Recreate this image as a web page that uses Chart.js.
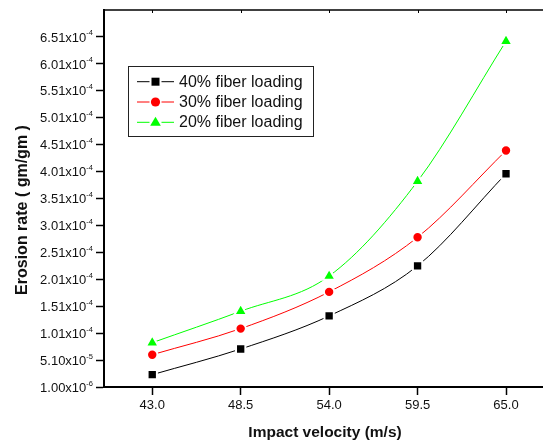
<!DOCTYPE html>
<html><head><meta charset="utf-8">
<script src="https://cdn.jsdelivr.net/npm/chart.js@4.4.1/dist/chart.umd.min.js"></script>
<style>html,body{margin:0;padding:0;background:#fff;overflow:hidden;}canvas{display:block;}</style>
</head><body>
<canvas id="c" width="543" height="441"></canvas>
<script>
const velocity = [43.0, 48.5, 54.0, 59.5, 65.0];
const fiber40 = [2.39e-5, 7.16e-5, 1.33e-4, 2.26e-4, 3.97e-4];
const fiber30 = [6.10e-5, 1.094e-4, 1.776e-4, 2.79e-4, 4.40e-4];
const fiber20 = [8.33e-5, 1.417e-4, 2.07e-4, 3.83e-4, 6.43e-4];
const seriesLabels = ['40% fiber loading', '30% fiber loading', '20% fiber loading'];
const yTickValues = [1.00e-6, 5.10e-5, 1.01e-4, 1.51e-4, 2.01e-4, 2.51e-4, 3.01e-4,
                     3.51e-4, 4.01e-4, 4.51e-4, 5.01e-4, 5.51e-4, 6.01e-4, 6.51e-4];
const yTickLabels = ['1.00x10^-6', '5.10x10^-5', '1.01x10^-4', '1.51x10^-4', '2.01x10^-4',
                     '2.51x10^-4', '3.01x10^-4', '3.51x10^-4', '4.01x10^-4', '4.51x10^-4',
                     '5.01x10^-4', '5.51x10^-4', '6.01x10^-4', '6.51x10^-4'];
const xTitle = 'Impact velocity (m/s)';
const yTitle = 'Erosion rate ( gm/gm )';

const FONT = '"Liberation Sans", Arial, sans-serif';
const colors = ['#000000', '#ff0000', '#00ff00'];
const styles = ['rect', 'circle', 'triangle'];
const radii = [6.6, 5.2, 7.4];
const seriesData = [fiber40, fiber30, fiber20];

const datasets = seriesData.map((arr, i) => ({
  label: seriesLabels[i],
  data: arr.map((v, j) => ({x: velocity[j], y: v})),
  borderColor: colors[i],
  backgroundColor: colors[i],
  borderWidth: 1,
  cubicInterpolationMode: 'monotone',
  pointStyle: styles[i],
  pointRadius: radii[i],
  pointBackgroundColor: colors[i],
  pointBorderColor: '#ffffff',
  pointBorderWidth: 2,
  pointHoverRadius: radii[i]
}));

function drawMarker(ctx, style, x, y, color) {
  ctx.save();
  ctx.fillStyle = color;
  ctx.beginPath();
  if (style === 'rect') { const s = 4; ctx.rect(x - s, y - s, 2 * s, 2 * s); }
  else if (style === 'circle') { ctx.arc(x, y, 4.6, 0, Math.PI * 2); }
  else { const r = 5.6; ctx.moveTo(x, y - r); ctx.lineTo(x + r * 0.95, y + r * 0.62); ctx.lineTo(x - r * 0.95, y + r * 0.62); ctx.closePath(); }
  ctx.fill();
  ctx.restore();
}

const overlay = {
  id: 'overlay',
  afterDraw(chart) {
    const ctx = chart.ctx;
    const area = chart.chartArea;
    const ys = chart.scales.y, xs = chart.scales.x;
    ctx.save();
    // keep the right side open (the frame continues past the picture edge)
    ctx.fillStyle = '#fff';
    ctx.fillRect(area.right - 6, area.top + 2, 6, area.bottom - area.top - 4);
    // top frame
    ctx.strokeStyle = '#000'; ctx.lineWidth = 1.6;
    ctx.beginPath(); ctx.moveTo(area.left, area.top); ctx.lineTo(area.right, area.top); ctx.stroke();
    ctx.lineWidth = 1;
    velocity.forEach(v => {
      const px = Math.round(xs.getPixelForValue(v)) + 0.5;
      ctx.beginPath(); ctx.moveTo(px, area.top); ctx.lineTo(px, area.top + 3); ctx.stroke();
    });
    // y tick labels with superscript exponent
    ctx.fillStyle = '#111';
    ctx.textBaseline = 'alphabetic';
    yTickLabels.forEach((lab, i) => {
      const parts = lab.split('^');
      const py = ys.getPixelForValue(yTickValues[i]);
      ctx.font = '7.5px ' + FONT;
      const ew = ctx.measureText(parts[1]).width;
      const right = area.left - 11;
      ctx.textAlign = 'left';
      ctx.fillText(parts[1], right - ew, py - 1.5);
      ctx.font = '13px ' + FONT;
      ctx.textAlign = 'right';
      ctx.fillText(parts[0], right - ew, py + 4.7);
    });
    // axis titles
    ctx.fillStyle = '#111';
    ctx.font = 'bold 15.5px ' + FONT;
    ctx.textAlign = 'center'; ctx.textBaseline = 'middle';
    ctx.fillText(xTitle, 325, 433);
    ctx.save();
    ctx.translate(23, 210);
    ctx.rotate(-Math.PI / 2);
    ctx.font = 'bold 16px ' + FONT;
    ctx.fillText(yTitle, 0, 0);
    ctx.restore();
    // legend
    const bx = 128, by = 66, bw = 185, bh = 70;
    ctx.fillStyle = '#fff';
    ctx.fillRect(bx, by, bw, bh);
    ctx.strokeStyle = '#222'; ctx.lineWidth = 1;
    ctx.strokeRect(bx + 0.5, by + 0.5, bw, bh);
    chart.data.datasets.forEach((ds, i) => {
      const ry = 81.7 + i * 20.3;
      ctx.strokeStyle = colors[i]; ctx.lineWidth = 1;
      ctx.beginPath();
      ctx.moveTo(137, ry); ctx.lineTo(149.5, ry);
      ctx.moveTo(161.5, ry); ctx.lineTo(174, ry);
      ctx.stroke();
      drawMarker(ctx, styles[i], 155.5, ry, colors[i]);
      ctx.fillStyle = '#111';
      ctx.font = '16px ' + FONT;
      ctx.textAlign = 'left'; ctx.textBaseline = 'middle';
      ctx.fillText(ds.label, 179, ry + 0.5);
    });
    ctx.restore();
  }
};

new Chart(document.getElementById('c'), {
  type: 'line',
  data: { datasets },
  options: {
    responsive: false,
    animation: false,
    devicePixelRatio: 1,
    layout: { autoPadding: false, padding: { left: 0, right: 0, top: 10, bottom: 0 } },
    plugins: { legend: { display: false }, tooltip: { enabled: false } },
    scales: {
      x: {
        type: 'linear',
        min: 40,
        max: 67.3,
        afterBuildTicks: s => { s.ticks = velocity.map(v => ({ value: v })); },
        afterFit: s => { s.height = 54; },
        ticks: {
          callback: v => Number(v).toFixed(1),
          color: '#111',
          font: { family: FONT, size: 13 },
          padding: 3,
          maxRotation: 0,
          autoSkip: false
        },
        grid: { drawOnChartArea: false, drawTicks: true, tickLength: 8, tickColor: '#000', tickWidth: 1.5 },
        border: { display: true, color: '#000', width: 2 }
      },
      y: {
        type: 'linear',
        min: 1.0e-6,
        max: 7.01e-4,
        afterBuildTicks: s => { s.ticks = yTickValues.map(v => ({ value: v })); },
        afterFit: s => { s.width = 104; },
        ticks: { display: false },
        grid: { drawOnChartArea: false, drawTicks: true, tickLength: 8, tickColor: '#000', tickWidth: 1.5 },
        border: { display: true, color: '#000', width: 2 }
      }
    }
  },
  plugins: [overlay]
});
</script>
</body></html>
